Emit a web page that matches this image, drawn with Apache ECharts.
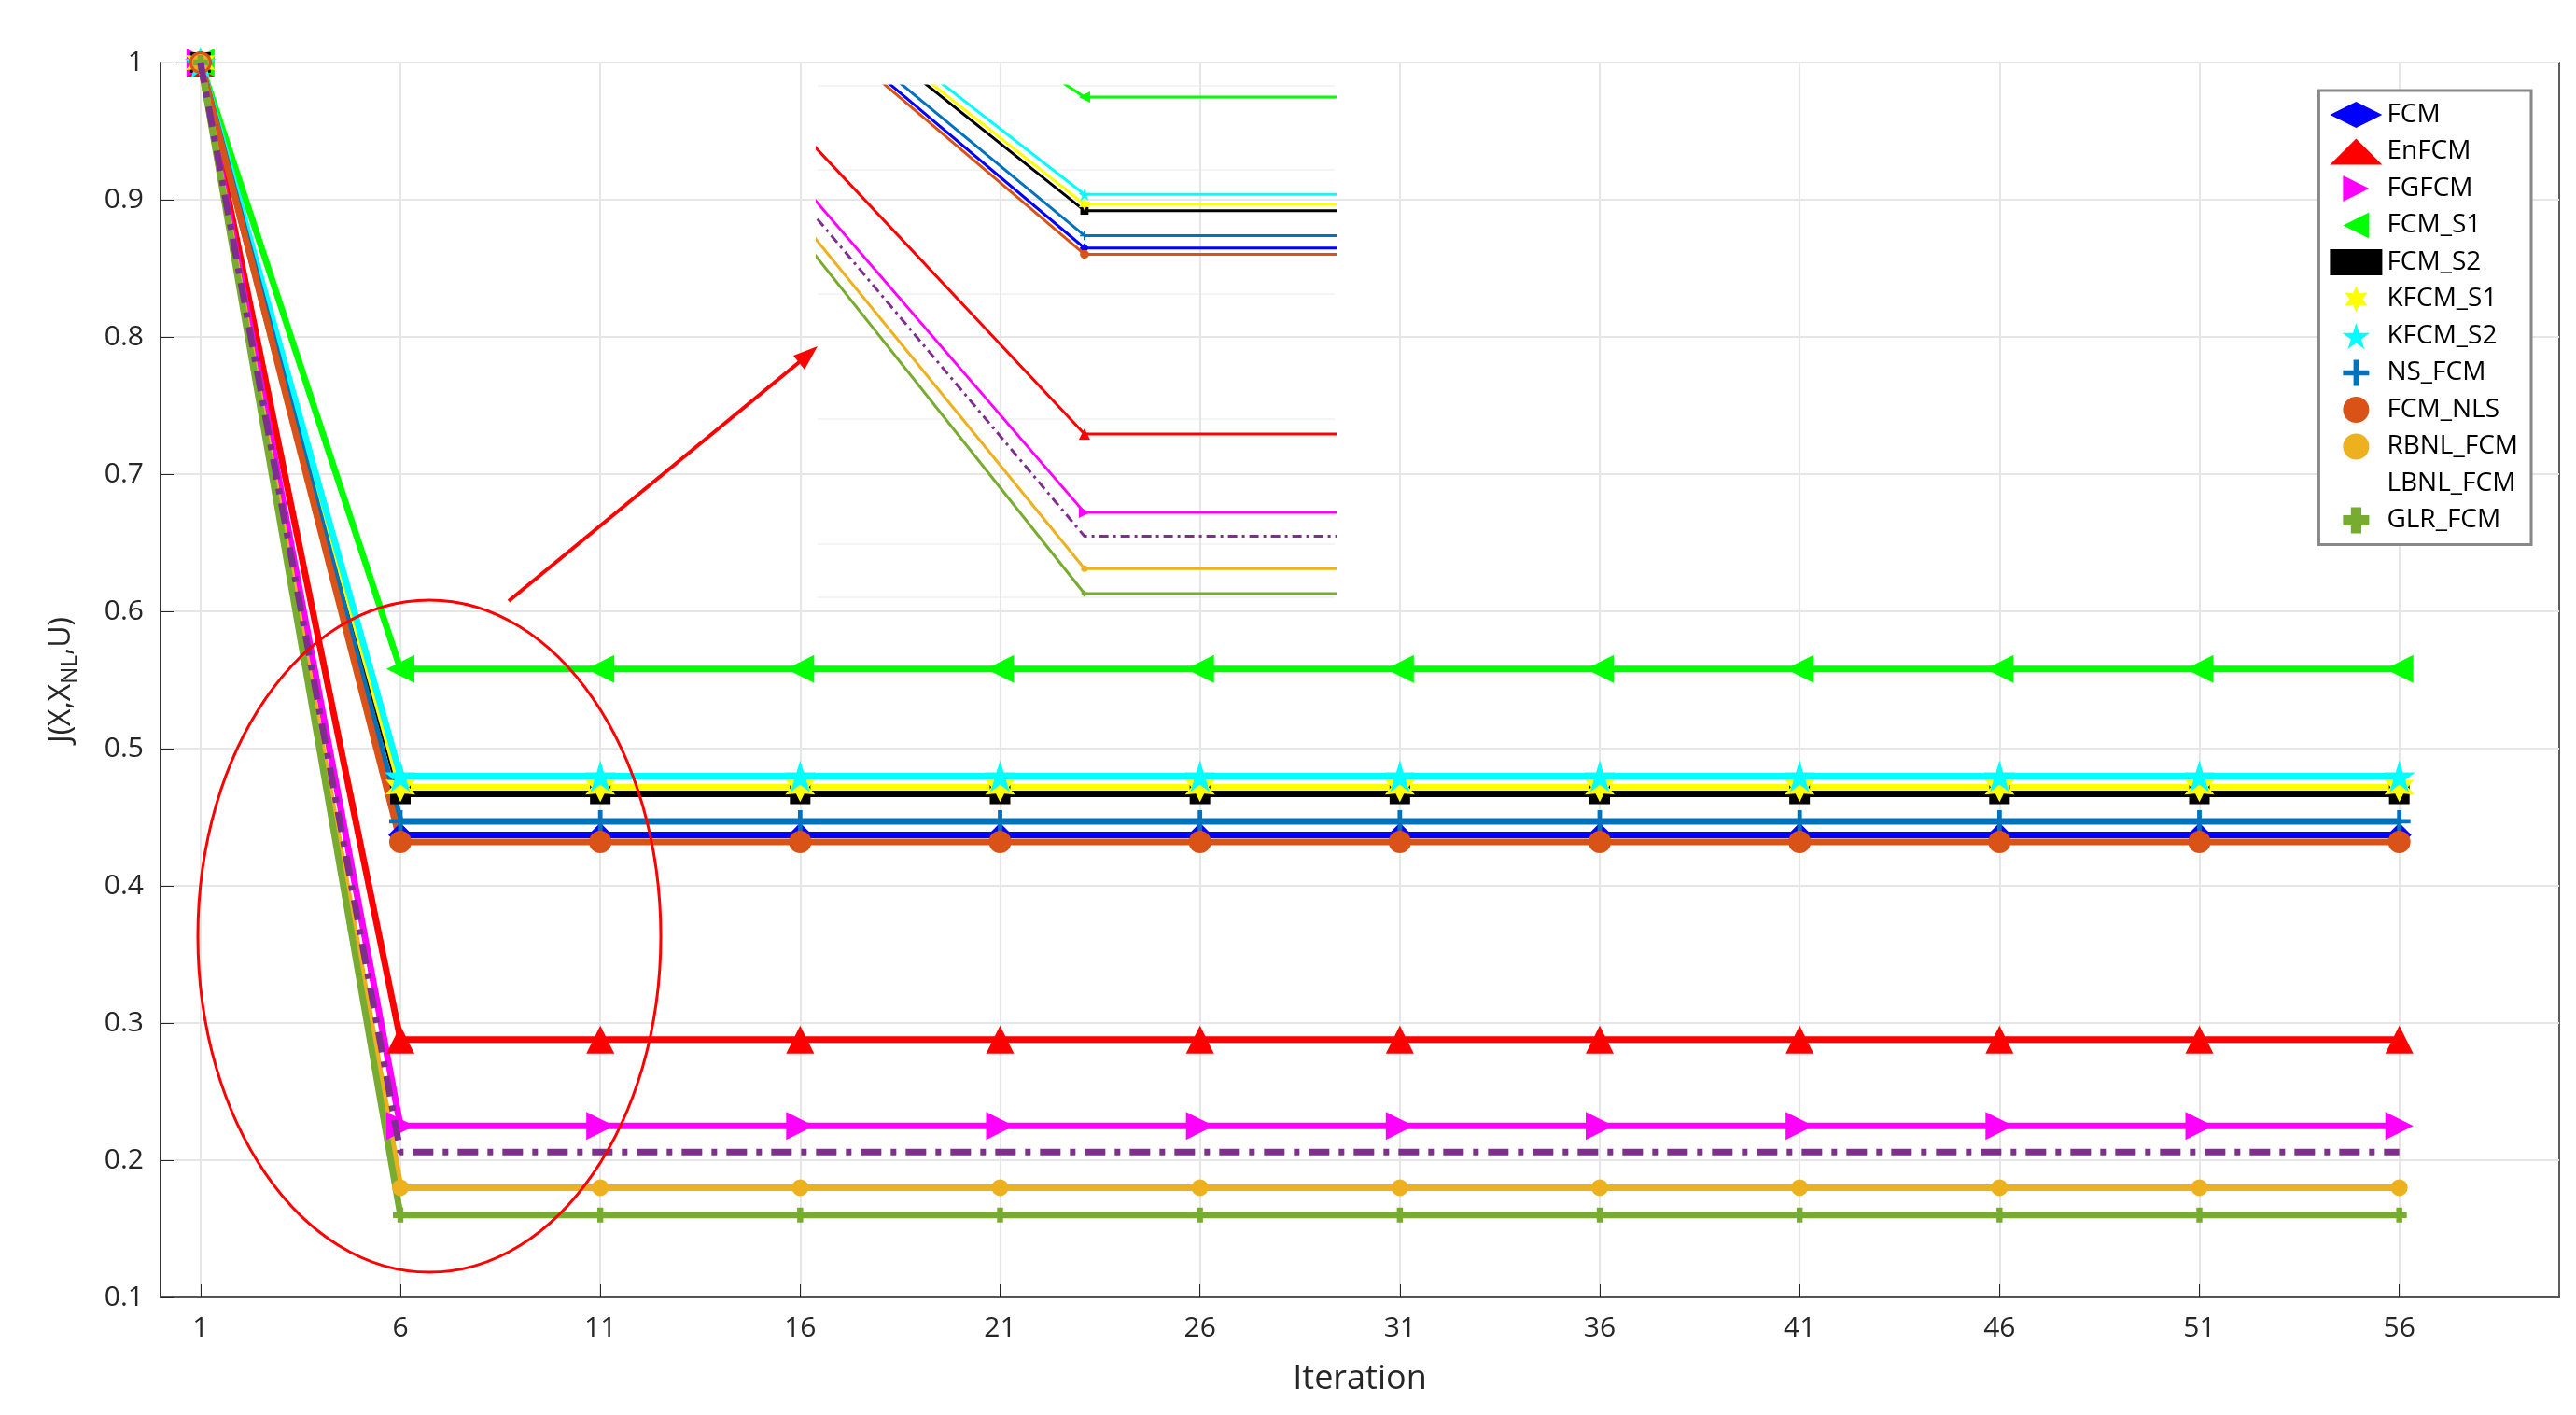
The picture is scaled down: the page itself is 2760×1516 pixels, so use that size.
<!DOCTYPE html>
<html><head><meta charset="utf-8">
<script src="https://cdn.jsdelivr.net/npm/echarts@6/dist/echarts.min.js"></script>
<style>html,body{margin:0;padding:0;background:#fff}#c{width:2760px;height:1516px}</style>
</head><body><div id="c"></div>
<script>
const iterations = [1,6,11,16,21,26,31,36,41,46,51,56];
const xTicks = [1,6,11,16,21,26,31,36,41,46,51,56];
const names = ['FCM','EnFCM','FGFCM','FCM_S1','FCM_S2','KFCM_S1','KFCM_S2','NS_FCM','FCM_NLS','RBNL_FCM','LBNL_FCM','GLR_FCM'];
const startValues = [1,1,1,1,1,1,1,1,1,1,1,1];
const plateauValues = [0.437,0.288,0.225,0.558,0.467,0.472,0.480,0.447,0.432,0.180,0.206,0.160];
const colors = ['#0000ff','#ff0000','#ff00ff','#00ff00','#000000','#ffff00','#00ffff','#0072bd','#d95319','#edb120','#7e2f8e','#77ac30'];
const rightTri='path://M0,0L10,5L0,10Z', leftTri='path://M10,0L0,5L10,10Z';
const star5='path://M50,0L61,35L98,35L68,57L79,91L50,70L21,91L32,57L2,35L39,35Z';
const star6='path://M50,0L62,28L93,25L75,50L93,75L62,72L50,100L38,72L7,75L25,50L7,25L38,28Z';
const plus='path://M4,0h2v4h4v2h-4v4h-2v-4h-4v-2h4z';
const symbols=['diamond','triangle',rightTri,leftTri,'rect',star6,star5,plus,'circle','circle','none','path://M3,0h4v3h3v4h-3v3h-4v-3h-3v-4h3z'];
const sizes=[26,30,30,30,22,32,34,24,24,18,0,16];
function dataOf(i){return iterations.map((x,k)=>[x,k===0?startValues[i]:plateauValues[i]]);}
const series=[];
names.forEach((n,i)=>{
  series.push({name:n,type:'line',data:dataOf(i),xAxisIndex:0,yAxisIndex:0,symbol:symbols[i],symbolSize:sizes[i],
    showAllSymbol:true,lineStyle:{color:colors[i],width:7,type:i===10?[22,10,6,10]:'solid'},itemStyle:{color:colors[i]},
    z:i===10?3:2,animation:false});
  series.push({name:n,type:'line',data:dataOf(i),xAxisIndex:1,yAxisIndex:1,symbol:symbols[i],symbolSize:Math.max(sizes[i]*0.4,6),
    clip:true,z:10,lineStyle:{color:colors[i],width:3,type:i===10?[10,5,3,5]:'solid'},itemStyle:{color:colors[i]},animation:false});
});
const legendData=names.map((n,i)=>({name:n,icon:i===10?'rect':symbols[i],
  itemStyle:{color:colors[i]},lineStyle:{color:colors[i],width:9,type:i===10?[14,8]:'solid'}}));
legendData[10].icon='none';
const chart=echarts.init(document.getElementById('c'));
chart.setOption({
  backgroundColor:'#fff',
  grid:[{left:172,right:18,top:67,bottom:126,show:true,borderColor:'#262626',borderWidth:1.5},
        {left:876,top:92,width:554,height:548,show:false}],
  legend:{data:legendData,orient:'vertical',right:48,top:97,itemWidth:56,itemHeight:28,itemGap:11.5,
    backgroundColor:'#fff',borderColor:'#888',borderWidth:3,padding:[12,14,12,12],
    textStyle:{fontSize:28,fontFamily:'Open Sans',color:'#000'}},
  xAxis:[{type:'value',min:0,max:60,name:'Iteration',nameLocation:'middle',nameGap:70,
    nameTextStyle:{fontSize:36,fontFamily:'Open Sans',color:'#262626'},
    axisLine:{lineStyle:{color:'#262626',width:1.5}},
    axisTick:{inside:true,length:14,customValues:xTicks,lineStyle:{color:'#262626'}},
    axisLabel:{customValues:xTicks,fontSize:30,fontFamily:'Open Sans',color:'#262626',margin:18},
    splitLine:{show:true,customValues:xTicks,lineStyle:{color:'#e6e6e6',width:2}}},
   {type:'value',gridIndex:1,min:4.4,max:7.5,show:false,splitLine:{show:false}}],
  yAxis:[{type:'value',min:0.1,max:1,interval:0.1,
    name:'{a|J(X,X}{s|NL}{a|,U)}',nameLocation:'middle',nameGap:90,nameRotate:90,
    nameTextStyle:{rich:{a:{fontSize:32,fontFamily:'Open Sans',color:'#262626'},s:{fontSize:24,fontFamily:'Open Sans',color:'#262626',padding:[0,0,-18,0]}}},
    axisLine:{show:true,lineStyle:{color:'#262626',width:1.5}},
    axisTick:{show:true,inside:true,length:14,lineStyle:{color:'#262626'}},
    axisLabel:{fontSize:30,fontFamily:'Open Sans',color:'#262626',margin:18,formatter:v=>String(+v.toFixed(1))},
    splitLine:{show:true,lineStyle:{color:'#e6e6e6',width:2}}},
   {type:'value',gridIndex:1,min:0.157,max:0.567,show:true,axisLine:{show:false},axisTick:{show:false},axisLabel:{show:false},
    splitLine:{show:true,lineStyle:{color:'#f0f0f0',width:1.5}}}],
  graphic:[
    {type:'rect',shape:{x:876,y:92,width:554,height:548},style:{fill:'#fff'},z:-1,zlevel:0,silent:true},
    {type:'ellipse',shape:{cx:460,cy:1003,rx:248,ry:360},style:{fill:'none',stroke:'#ff0000',lineWidth:3},z:100},
    {type:'line',shape:{x1:545,y1:644,x2:866,y2:380},style:{stroke:'#ff0000',lineWidth:4},z:100},
    {type:'polygon',shape:{points:[[876,371],[850,381],[862,396]]},style:{fill:'#ff0000'},z:100}
  ],
  series:series
});
</script></body></html>
